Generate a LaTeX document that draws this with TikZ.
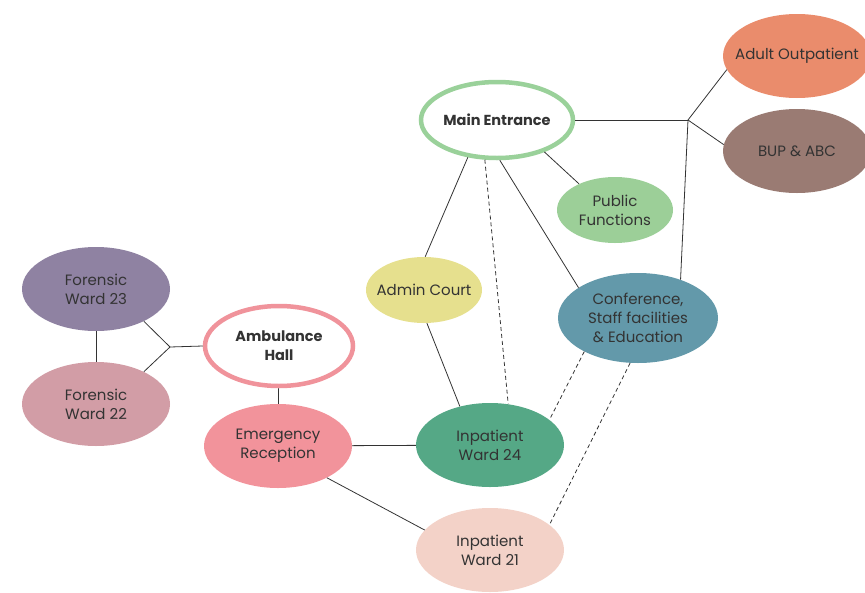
\documentclass[tikz,border=0pt]{standalone}
\usepackage{fontspec}
\setmainfont{Poppins}
\usepackage{xcolor}
\usetikzlibrary{positioning, shapes.geometric}

\definecolor{hubgreen}{HTML}{9AD19A}
\definecolor{hubpink}{HTML}{F0939B}
\definecolor{adultfill}{HTML}{EA8C6C}
\definecolor{bupfill}{HTML}{9A7B73}
\definecolor{publicfill}{HTML}{9CCF98}
\definecolor{adminfill}{HTML}{E6E08E}
\definecolor{conffill}{HTML}{6399AA}
\definecolor{fwtwothree}{HTML}{8F82A2}
\definecolor{fwtwotwo}{HTML}{D29DA6}
\definecolor{emergfill}{HTML}{F2939B}
\definecolor{wardtwofour}{HTML}{55A886}
\definecolor{wardtwoone}{HTML}{F3D2C8}
\definecolor{inkgray}{HTML}{333333}

\begin{document}
\begin{tikzpicture}[
      x=1pt, y=-1pt,
      place/.style={
        ellipse,
        inner xsep=-14pt, % keep the ellipse size set by the minimum sizes
        inner ysep=0pt,
        align=center,
        minimum width=148pt,
        minimum height=84pt,
        text=inkgray,
        font=\fontsize{15}{19}\selectfont
      },
      hub/.style={
        place,
        draw,
        line width=4.5pt,
        fill=white,
        font=\fontsize{14.5}{19}\selectfont\bfseries
      },
      link/.style={draw=inkgray, line width=0.8pt},
      hint/.style={link, dash pattern=on 4pt off 3pt}
    ]
    \useasboundingbox (0,0) rectangle (865,592);

    % Place nodes
    \node [hub, draw=hubgreen, minimum width=152pt, minimum height=76pt] (main) at (497,120) {Main Entrance};
    \node [place, fill=adultfill] (adult) at (797,56) {Adult Outpatient};
    \node [place, fill=bupfill] (bup) at (797,151) {BUP \& ABC};
    \node [place, fill=publicfill, minimum width=116pt, minimum height=66pt] (public) at (615,210) {Public\\Functions};
    \node [place, fill=adminfill, minimum width=116pt, minimum height=66pt] (admin) at (424,290) {Admin Court};
    \node [place, fill=conffill, minimum width=160pt, minimum height=90pt] (conf) at (638,318) {Conference,\\Staff facilities\\\& Education};
    \node [place, fill=fwtwothree] (fw23) at (96,289) {Forensic\\Ward 23};
    \node [place, fill=fwtwotwo] (fw22) at (96,404) {Forensic\\Ward 22};
    \node [hub, draw=hubpink, minimum width=148pt, minimum height=80pt] (amb) at (279,346) {Ambulance\\Hall};
    \node [place, fill=emergfill] (emerg) at (278,446) {Emergency\\Reception};
    \node [place, fill=wardtwofour] (w24) at (490,445) {Inpatient\\Ward 24};
    \node [place, fill=wardtwoone] (w21) at (490,550) {Inpatient\\Ward 21};

    % Junction points
    \coordinate (jr) at (688,120);
    \coordinate (jl) at (170,347);

    % Solid links
    \draw [link] (main.east) -- (jr);
    \draw [link] (jr) -- (adult.191);
    \draw [link] (jr) -- (bup.175);
    \draw [link] (jr) -- (conf.42);
    \draw [link] (main.326) -- (public.144);
    \draw [link] (main.232) -- (admin.88);
    \draw [link] (main.274) -- (conf.153);
    \draw [link] (admin.275) -- (w24.128);
    \draw [link] (amb) -- (emerg);
    \draw [link] (emerg) -- (w24);
    \draw [link] (emerg.327) -- (w21.163);
    \draw [link] (fw23) -- (fw22);
    \draw [link] (fw23.326) -- (jl);
    \draw [link] (fw22.34) -- (jl);
    \draw [link] (jl) -- (amb.west);

    % Dashed links
    \draw [hint] (main.253) -- (w24.66);
    \draw [hint] (conf.212) -- (w24.23);
    \draw [hint] (conf.260) -- (w21.23);
  \end{tikzpicture}
\end{document}
